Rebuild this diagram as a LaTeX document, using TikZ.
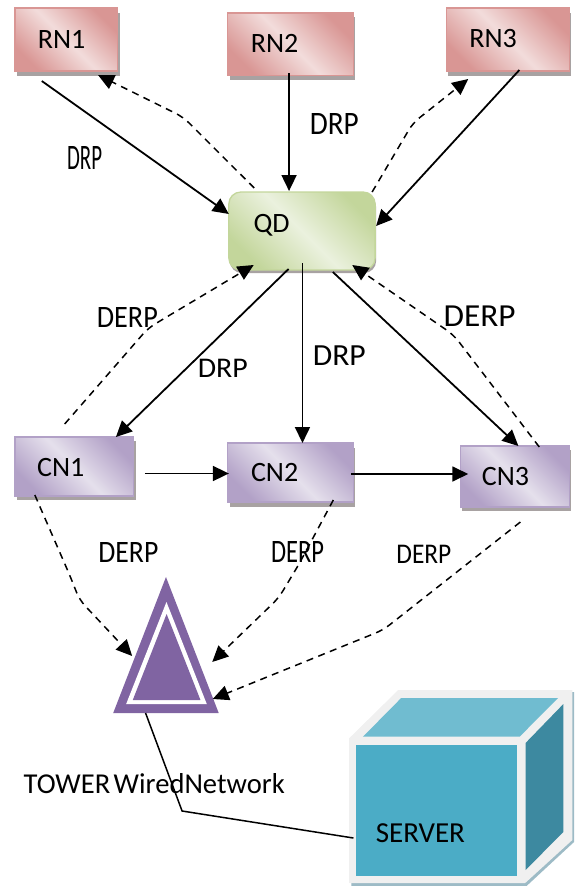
\documentclass[tikz,border=0pt]{standalone}
\usepackage{fontspec}
\usepackage{graphicx}
\setmainfont{Carlito}
\usetikzlibrary{arrows.meta,backgrounds}
\definecolor{rdark}{HTML}{D99694}\definecolor{rlight}{HTML}{F2DCDB}
\definecolor{gdark}{HTML}{C3D69B}\definecolor{glight}{HTML}{EBF1DE}
\definecolor{pdark}{HTML}{B2A1C7}\definecolor{plight}{HTML}{E5E0EC}
\definecolor{shadowc}{HTML}{A8A2A2}
\definecolor{twr}{HTML}{8064A2}
\definecolor{srvfront}{HTML}{4BACC6}\definecolor{srvtop}{HTML}{70BCD0}\definecolor{srvside}{HTML}{3D89A0}
\definecolor{srvedge}{HTML}{F0F0F0}\definecolor{srvshadow}{HTML}{9DBBC6}
\newcommand{\lbl}[3]{\resizebox{#1pt}{#2pt}{#3}}
\tikzset{
  boxbase/.style={rectangle,inner sep=0pt,outer sep=0pt,line width=1.3pt},
  redbox/.style={boxbase,draw=rdark,top color=rdark,bottom color=rdark,middle color=rlight,shading angle=-45},
  purplebox/.style={boxbase,draw=pdark,top color=pdark,bottom color=pdark,middle color=plight,shading angle=-45},
  greenbox/.style={boxbase,draw=gdark,rounded corners=12pt,top color=gdark,bottom color=gdark,middle color=glight,shading angle=-45},
  boxshadow/.style={fill=shadowc},
  nametext/.style={inner sep=0pt,font=\fontsize{28}{30}\selectfont,text=black},
  edgetext/.style={inner sep=0pt,font=\fontsize{26}{30}\selectfont,text=black},
  solidarrow/.style={line width=1.8pt,-{Triangle[length=16pt,width=15pt]}},
  dasharrow/.style={line width=1.5pt,dash pattern=on 7pt off 5.5pt,rounded corners=8pt,-{Triangle[length=16pt,width=15pt,sep=0pt]}},
  anchorbox/.style={rectangle,inner sep=0pt,outer sep=0pt},
  wire/.style={line width=1.5pt}
}
\begin{document}
\begin{tikzpicture}[x=0.995pt,y=-1pt]
\useasboundingbox (0,0) rectangle (576.9,886);
% boxes
\node[redbox,minimum width=102.5pt,minimum height=63pt] (rn1) at (66.5,39.5) {};
\node[redbox,minimum width=125.4pt,minimum height=62.5pt] (rn2) at (292,44.25) {};
\node[redbox,minimum width=122.9pt,minimum height=63pt] (rn3) at (510.25,39.5) {};
\node[greenbox,minimum width=146.3pt,minimum height=78pt] (qd) at (303.5,231) {};
\node[purplebox,minimum width=118.4pt,minimum height=59pt] (cn1) at (74.5,466.5) {};
\node[purplebox,minimum width=125.4pt,minimum height=59pt] (cn2) at (292,472.5) {};
\node[purplebox,minimum width=109pt,minimum height=61pt] (cn3) at (517.25,476.5) {};
\begin{scope}[on background layer]
\fill[boxshadow] ([shift={(2.2,5)}]rn1.north west) rectangle ([shift={(2.2,5)}]rn1.south east);
\fill[boxshadow] ([shift={(2.2,4)}]rn2.north west) rectangle ([shift={(2.2,4)}]rn2.south east);
\fill[boxshadow] ([shift={(2.2,5)}]rn3.north west) rectangle ([shift={(2.2,5)}]rn3.south east);
\fill[boxshadow] ([shift={(2.2,4)}]cn1.north west) rectangle ([shift={(2.2,4)}]cn1.south east);
\fill[boxshadow] ([shift={(2.2,5)}]cn2.north west) rectangle ([shift={(2.2,5)}]cn2.south east);
\fill[boxshadow] ([shift={(2.2,4)}]cn3.north west) rectangle ([shift={(2.2,4)}]cn3.south east);
\fill[boxshadow,rounded corners=12pt] ([shift={(1,3)}]qd.north west) rectangle ([shift={(1,3)}]qd.south east);
\end{scope}
% names
\node[nametext] (rn1t) at (62,39) {RN1};
\node[nametext] (rn2t) at (276,43) {RN2};
\node[nametext] (rn3t) at (495.6,39) {RN3};
\node[nametext] (qdt) at (273,225) {QD};
\node[nametext] (cn1t) at (61,468) {CN1};
\node[nametext] (cn2t) at (276,473) {CN2};
\node[nametext] (cn3t) at (508,477) {CN3};
% tower
\node[anchorbox,minimum width=105.5pt,minimum height=136pt] (tower) at (166.8,645) {};
\node[anchorbox,minimum width=80.6pt,minimum height=102pt] (towerw) at (167.3,653) {};
\node[anchorbox,minimum width=67.7pt,minimum height=86pt] (towerc) at (167.45,657) {};
\fill[twr] (tower.north) -- (tower.south west) -- (tower.south east) -- cycle;
\fill[white] (towerw.north) -- (towerw.south west) -- (towerw.south east) -- cycle;
\fill[twr] (towerc.north) -- (towerc.south west) -- (towerc.south east) -- cycle;
% server
\begin{scope}[xshift=2.2pt]
\fill[srvshadow] (351,740) -- (400,692) -- (574.7,692) -- (574.7,842) -- (527,886) -- (351,886) -- cycle;
\fill[srvedge] (349,738) -- (398,690) -- (573,690) -- (573,840) -- (525.6,883) -- (349,883) -- cycle;
\fill[srvedge] (349,738) rectangle (525.6,883);
\fill[srvfront] (356,745) rectangle (517.6,876);
\fill[srvtop] (362.6,736.7) -- (401,698) -- (558.6,698) -- (520,736.7) -- cycle;
\fill[srvside] (526,743) -- (564,704) -- (564,832) -- (526,870) -- cycle;
\end{scope}
\node[anchorbox,minimum width=175.7pt,minimum height=145pt] (server) at (439.5,810.5) {};
\node[inner sep=0pt,font=\fontsize{29}{32}\selectfont] (servert) at (422.5,833) {SERVER};
% solid connectors
\draw[solidarrow] ([shift={(-24.5,41.5)}]rn1.center) -- ([shift={(-73.5,-17)}]qd.center);
\draw[solidarrow] ([shift={(-1.5,28.75)}]rn2.center) -- ([shift={(-13,-40)}]qd.center);
\draw[solidarrow] ([shift={(11.75,30.5)}]rn3.center) -- ([shift={(74.5,-5)}]qd.center);
\draw[solidarrow] ([shift={(-13.5,38)}]qd.center) -- ([shift={(42,-29.5)}]cn1.center);
\draw[solidarrow] ([shift={(0.5,32)}]qd.center) -- ([shift={(12,-29.5)}]cn2.center);
\draw[solidarrow] ([shift={(31,41)}]qd.center) -- ([shift={(3.75,-30.5)}]cn3.center);
\draw[solidarrow] ([shift={(71,7)}]cn1.center) -- ([shift={(-62,1)}]cn2.center);
\draw[solidarrow] ([shift={(61,1.5)}]cn2.center) -- ([shift={(-46.65,-2.5)}]cn3.center);
% dashed connectors
\coordinate (b1) at (184,117);
\coordinate (b2) at (415,123);
\coordinate (b3) at (149,328);
\coordinate (b4) at (456,335);
\coordinate (b5) at (70,575);
\coordinate (b6) at (80,600);
\coordinate (b7) at (300,565);
\coordinate (b8) at (280,598);
\coordinate (b9) at (385,630);
\draw[dasharrow] ([shift={(-48,-43)}]qd.center) -- (b1) -- ([shift={(32,35.5)}]rn1.center);
\draw[dasharrow] ([shift={(70.5,-39)}]qd.center) -- (b2) -- ([shift={(-39.65,39.5)}]rn3.center);
\draw[dasharrow] ([shift={(-9.5,-42.5)}]cn1.center) -- (b3) -- ([shift={(-48.5,34)}]qd.center);
\draw[dasharrow] ([shift={(24.75,-29.5)}]cn3.center) -- (b4) -- ([shift={(50.5,34)}]qd.center);
\draw[dasharrow] ([shift={(-39.5,28.5)}]cn1.center) -- (b5) -- (b6) -- ([shift={(-34,11)}]tower.center);
\draw[dasharrow] ([shift={(43,27.5)}]cn2.center) -- (b7) -- (b8) -- ([shift={(46.5,17)}]tower.center);
\draw[dasharrow] ([shift={(5.75,45.5)}]cn3.center) -- (b9) -- ([shift={(47,54)}]tower.center);
% wire
\coordinate (w1) at (183,811);
\draw[wire] ([shift={(-20.5,68)}]tower.center) -- (w1) -- ([shift={(-84.3,27.5)}]server.center);
% edge labels
\node[edgetext] (l1) at (85,158) {\lbl{35}{23}{DRP}};
\node[edgetext] (l2) at (336,124) {\lbl{49}{21}{DRP}};
\node[edgetext] (l3) at (128,317) {\lbl{61}{20}{DERP}};
\node[edgetext] (l4) at (482,316) {\lbl{72}{20.6}{DERP}};
\node[edgetext] (l5) at (224,368) {\lbl{50}{18.3}{DRP}};
\node[edgetext] (l6) at (341,356) {\lbl{53}{19.7}{DRP}};
\node[edgetext] (l7) at (129,552) {\lbl{60}{20}{DERP}};
\node[edgetext] (l8) at (299,552) {\lbl{53}{21}{DERP}};
\node[edgetext] (l9) at (426,554) {\lbl{55}{18.3}{DERP}};
\node[edgetext] (l10) at (155,784) {\lbl{261}{20}{TOWER\hspace{0.12em}WiredNetwork}};
\end{tikzpicture}
\end{document}
